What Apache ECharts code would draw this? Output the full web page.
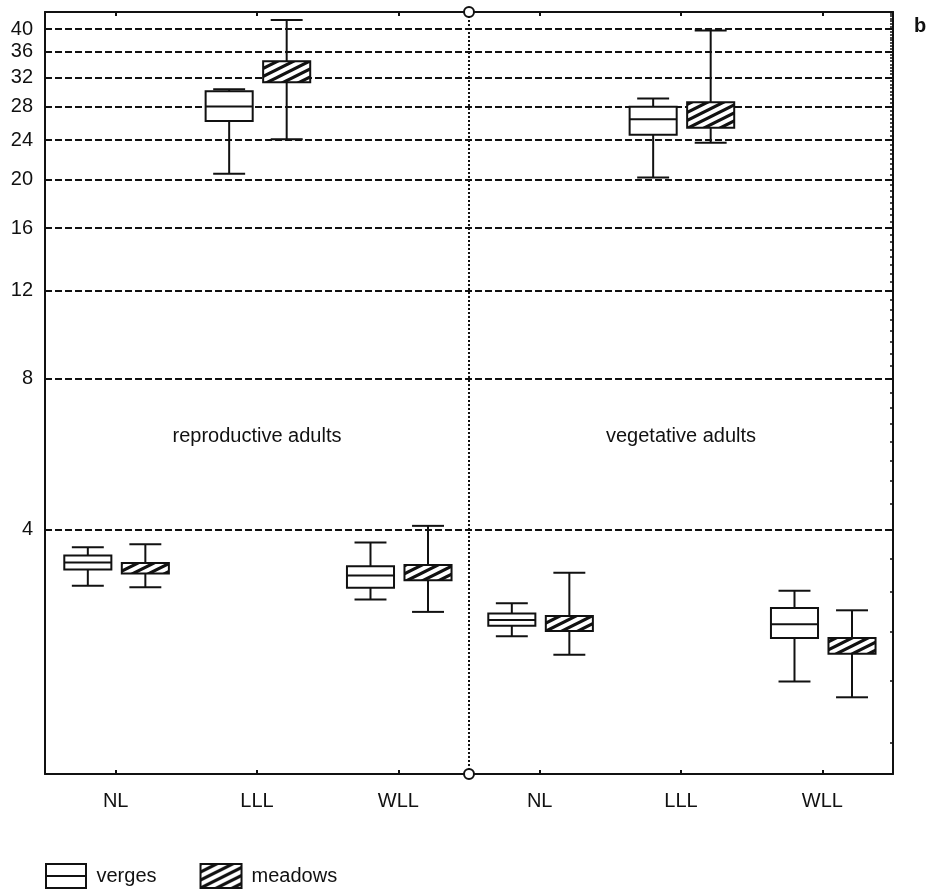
<!DOCTYPE html>
<html><head><meta charset="utf-8">
<script src="https://cdn.jsdelivr.net/npm/echarts@6/dist/echarts.min.js"></script>
<style>html,body{margin:0;padding:0;background:#fff}#c{width:929px;height:891px}</style>
</head><body><div id="c"></div>
<script>
// ---------- data ----------
const categories = ['NL', 'LLL', 'WLL', 'NL', 'LLL', 'WLL'];
const seriesNames = ['verges', 'meadows'];
// each row: [min, q1, median, q3, max]
const vergesStats = [
  [3.09, 3.33, 3.44, 3.55, 3.69],
  [20.56, 26.2, 28.0, 30.05, 30.3],
  [2.90, 3.06, 3.24, 3.38, 3.77],
  [2.45, 2.57, 2.64, 2.72, 2.85],
  [20.2, 24.6, 26.4, 27.96, 29.05],
  [1.99, 2.43, 2.59, 2.79, 3.02]
];
const meadowsStats = [
  [3.07, 3.27, 3.35, 3.43, 3.74],
  [24.1, 31.3, 33.0, 34.5, 41.7],
  [2.74, 3.17, 3.28, 3.40, 4.07],
  [2.25, 2.51, 2.60, 2.69, 3.28],
  [23.7, 25.4, 27.0, 28.55, 39.7],
  [1.85, 2.26, 2.35, 2.43, 2.76]
];
const yTickLabels = [4, 8, 12, 16, 20, 24, 28, 32, 36, 40];
const groupLabels = ['reproductive adults', 'vegetative adults'];
const groupLabelCategory = [1, 4];
const groupLabelValue = [6.15, 6.15];
const dividerPosition = [2.5];
const yRange = [1.3, 43.25];
const rightMinorStep = 0.5;

// ---------- helpers ----------
const FONT = 'Liberation Sans, Arial, Helvetica, sans-serif';
const INK = '#111';
const TXT = '#111';

function makeHatch() {
  const c = document.createElement('canvas');
  c.width = 16; c.height = 8;
  const g = c.getContext('2d');
  g.fillStyle = '#fff'; g.fillRect(0, 0, 16, 8);
  g.strokeStyle = '#111'; g.lineWidth = 3.2;
  for (const dy of [-8, 0, 8]) {
    g.beginPath(); g.moveTo(-2, 8 + dy + 1); g.lineTo(18, 0 + dy - 1); g.stroke();
  }
  return c;
}
const hatch = { image: makeHatch(), repeat: 'repeat' };

const rightTicks = [];
for (let v = 1.5; v <= yRange[1]; v += rightMinorStep) rightTicks.push(v);

function toData(stats) {
  return stats.map((s, i) => [i].concat(s));
}

function makeRender(offsetFrac, fill, drawMedian) {
  return function (params, api) {
    const xi = api.value(0);
    const band = api.size([1, 0])[0];
    const base = api.coord([xi, api.value(3)]);
    const cx = base[0] + band * offsetFrac;
    const yLo = api.coord([xi, api.value(1)])[1];
    const yQ1 = api.coord([xi, api.value(2)])[1];
    const yMed = base[1];
    const yQ3 = api.coord([xi, api.value(4)])[1];
    const yHi = api.coord([xi, api.value(5)])[1];
    const boxW = band * 0.333;
    const capW = band * 0.226;
    const ls = { stroke: INK, lineWidth: 2 };
    const children = [
      { type: 'line', shape: { x1: cx, y1: yQ3, x2: cx, y2: yHi }, style: ls },
      { type: 'line', shape: { x1: cx, y1: yQ1, x2: cx, y2: yLo }, style: ls },
      { type: 'line', shape: { x1: cx - capW / 2, y1: yHi, x2: cx + capW / 2, y2: yHi }, style: ls },
      { type: 'line', shape: { x1: cx - capW / 2, y1: yLo, x2: cx + capW / 2, y2: yLo }, style: ls },
      { type: 'rect', shape: { x: cx - boxW / 2, y: yQ3, width: boxW, height: yQ1 - yQ3 },
        style: { fill: fill, stroke: INK, lineWidth: 2 } }
    ];
    if (drawMedian) {
      children.push({ type: 'line', shape: { x1: cx - boxW / 2, y1: yMed, x2: cx + boxW / 2, y2: yMed }, style: ls });
    }
    return { type: 'group', children: children };
  };
}

const chart = echarts.init(document.getElementById('c'), null, { renderer: 'canvas' });

const option = {
  backgroundColor: '#fff',
  animation: false,
  textStyle: { fontFamily: FONT },
  grid: { left: 45, right: 36, top: 12, bottom: 117, containLabel: false },
  legend: {
    left: 45, top: 863, orient: 'horizontal', padding: 0,
    itemWidth: 41, itemHeight: 24, itemGap: 43,
    textStyle: { fontFamily: FONT, fontSize: 20, color: TXT, padding: [0, 0, 0, 5] },
    data: [
      { name: 'verges', icon: 'path://M0,0H40V24H0Z M0,12H40',
        itemStyle: { color: '#fff', borderColor: INK, borderWidth: 2 } },
      { name: 'meadows', icon: 'rect',
        itemStyle: { color: hatch, borderColor: INK, borderWidth: 2 } }
    ]
  },
  xAxis: [
    {
      type: 'category', data: categories, position: 'bottom', boundaryGap: true,
      axisLine: { show: true, lineStyle: { color: INK, width: 2 } },
      axisTick: { show: true, inside: true, alignWithLabel: true, length: 4, lineStyle: { color: INK, width: 2 } },
      axisLabel: { show: true, fontFamily: FONT, fontSize: 20, color: TXT, margin: 17 },
      splitLine: { show: false }
    },
    {
      type: 'category', data: categories, position: 'top', boundaryGap: true,
      axisLine: { show: true, onZero: false, lineStyle: { color: INK, width: 2 } },
      axisTick: { show: true, inside: true, alignWithLabel: true, length: 4, lineStyle: { color: INK, width: 2 } },
      axisLabel: { show: false }, splitLine: { show: false }
    },
    {
      type: 'value', min: -0.5, max: 5.5, show: false
    }
  ],
  yAxis: [
    {
      type: 'log', logBase: 10, min: yRange[0], max: yRange[1], position: 'left',
      axisLine: { show: true, onZero: false, lineStyle: { color: INK, width: 2 } },
      axisTick: { show: false, customValues: yTickLabels },
      axisLabel: { show: true, customValues: yTickLabels, fontFamily: FONT, fontSize: 20, color: TXT, margin: 12 },
      splitLine: { show: false }, minorTick: { show: false }, minorSplitLine: { show: false }
    },
    {
      type: 'log', logBase: 10, min: yRange[0], max: yRange[1], position: 'right',
      axisLine: { show: true, onZero: false, lineStyle: { color: INK, width: 2 } },
      axisTick: { show: true, inside: true, length: 3, customValues: rightTicks, lineStyle: { color: INK, width: 1.5 } },
      axisLabel: { show: false },
      splitLine: { show: false }
    }
  ],
  series: [
    {
      name: 'verges', type: 'custom', xAxisIndex: 0, yAxisIndex: 0,
      itemStyle: { color: '#fff', borderColor: INK },
      encode: { x: 0, y: [1, 2, 3, 4, 5] },
      renderItem: makeRender(-0.197, '#fff', true),
      data: toData(vergesStats), z: 5
    },
    {
      name: 'meadows', type: 'custom', xAxisIndex: 0, yAxisIndex: 0,
      itemStyle: { color: hatch, borderColor: INK },
      encode: { x: 0, y: [1, 2, 3, 4, 5] },
      renderItem: makeRender(0.21, hatch, false),
      data: toData(meadowsStats), z: 5
    },
    {
      name: 'divider', type: 'line', xAxisIndex: 2, yAxisIndex: 0,
      data: [[dividerPosition[0], yRange[0]], [dividerPosition[0], yRange[1]]],
      symbol: 'circle', symbolSize: 10, showSymbol: true, clip: false, z: 6,
      itemStyle: { color: '#fff', borderColor: INK, borderWidth: 2 },
      lineStyle: { color: INK, width: 2, type: [2, 2] },
      silent: true,
      markLine: {
        silent: true, symbol: ['none', 'none'], z: 3,
        label: { show: false },
        lineStyle: { color: INK, width: 2, type: [7, 3] },
        data: yTickLabels.map(v => ({ yAxis: v }))
      }
    },
    {
      name: 'groups', type: 'scatter', xAxisIndex: 0, yAxisIndex: 0,
      symbolSize: 0, silent: true,
      label: { show: true, position: 'inside', formatter: '{b}', fontFamily: FONT, fontSize: 20,
        color: TXT, textBorderWidth: 0, opacity: 1 },
      itemStyle: { opacity: 1 },
      data: groupLabels.map((n, i) => ({ name: n, value: [groupLabelCategory[i], groupLabelValue[i]] }))
    }
  ],
  graphic: [
    { type: 'text', left: 914, top: 16, style: { text: 'b', font: 'bold 20px ' + FONT, fill: '#111' } }
  ]
};
chart.setOption(option);
</script>
</body></html>
